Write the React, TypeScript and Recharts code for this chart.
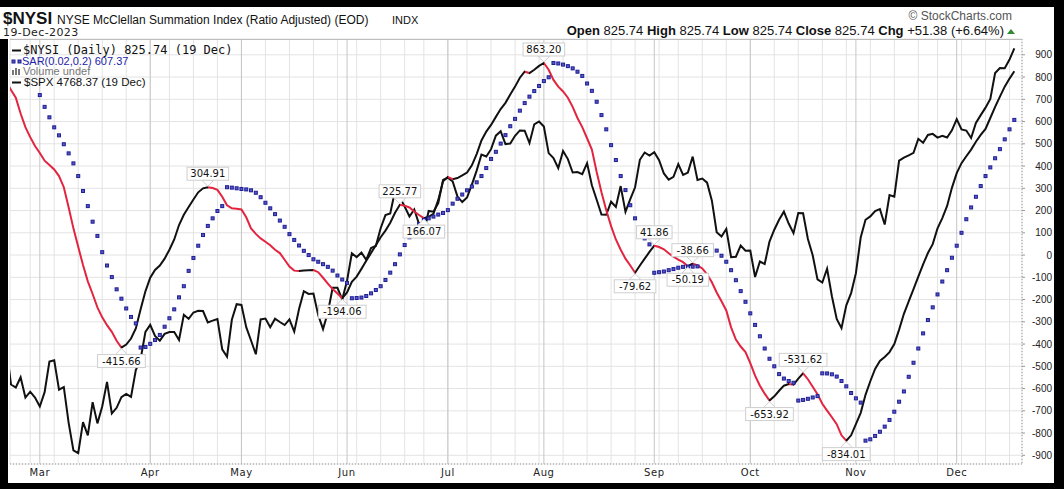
import React from "react";
import {
  ComposedChart,
  Line,
  XAxis,
  YAxis,
  CartesianGrid,
  ReferenceLine,
  ReferenceDot,
} from "recharts";

// trading days from Feb 17 (i = -1) to Dec 19 2023 (i = 209)
const nysi = [
  780,
  742, 707, 636, 575, 530, 490, 459, 424, 405, 385,
  355, 305, 215, 120, 37, -45, -118, -175, -235, -280,
  -315, -345, -385, -415.66, -402, -375, -330, -244, -163, -102,
  -67, -47, -16, 24, 70, 135, 181, 216, 250, 282,
  300, 304.91, 301, 293, 262, 224, 210, 208, 205, 170,
  120, 95, 75, 60, 44, 24, 9, -21, -52, -70,
  -72, -69, -68, -67, -77, -102, -128, -153, -173, -194.06,
  -168, -120, -97, -62, -26, 9, 44, 80, 110, 145,
  190, 225.77, 222, 214, 196, 180, 166.07, 172, 185, 248,
  332, 351, 341, 346, 358, 371, 403, 454, 515, 555,
  585, 621, 656, 684, 722, 757, 797, 824, 818, 833,
  850, 863.2, 833, 787, 757, 735, 707, 666, 616, 575,
  525, 474, 373, 282, 201, 130, 70, 24, -16, -47,
  -79.62, -47, -16, 14, 41.86, 36, 26, 8, -7, -20,
  -32, -50.19, -38.66, -46, -60, -87, -122, -168, -208, -249,
  -325, -380, -411, -436, -486, -542, -587, -623, -653.92, -635,
  -610, -587, -580, -583, -555, -531.62, -558, -592, -625, -668,
  -699, -729, -760, -810, -834.01, -810, -760, -709, -628, -567,
  -512, -476, -458, -436, -400, -335, -264, -208, -153, -97,
  -42, 9, 49, 120, 166, 221, 302, 368, 413, 444,
  474, 509, 540, 567, 616, 666, 712, 757, 793, 825.74,
];

const sar = [
  null,
  null, null, null, null, null, null, 719, 666, 619, 574,
  538, 498, 457, 412, 355, 288, 220, 150, 86, 13,
  -47, -99, -154, -196, -240, -278, -307, -415.66, -413, -399,
  -382, -359, -322, -284, -244, -190, -140, -71, -13, 42,
  90, 131, 165, 198, 220, 304.91, 303, 300, 297, 295,
  291, 280, 260, 235, 210, 184, 155, 127, 94, 68,
  43, 19, 0, -19, -30, -41, -53, -70, -92, -110,
  -125, -194.06, -193, -191, -184, -172, -157, -140, -112, -79,
  -41, 3, 45, 80, 112, 139, 158, 165, 173, 182,
  189, 202, 231, 253, 272, 291, 308, 327, 355, 391,
  432, 464, 501, 539, 579, 612, 649, 683, 712, 737,
  760, 782, 799, 863.2, 861, 856, 849, 839, 824, 805,
  771, 738, 689, 629, 565, 494, 427, 355, 292, 224,
  165, 115, 75, 48, -79.62, -77, -74, -68, -63, -57,
  -53, -52, -52, -51, 41.86, 39, 35, 20, -3, -30,
  -68, -113, -162, -210, -262, -314, -365, -420, -466, -500,
  -535, -555, -566, -574, -653.92, -651, -646, -640, -634, -531.62,
  -532, -536, -546, -566, -590, -620, -644, -663, -834.01, -828,
  -813, -794, -771, -741, -704, -659, -613, -547, -484, -420,
  -352, -292, -235, -177, -119, -68, -12, 42, 100, 161,
  214, 262, 310, 355, 394, 435, 476, 520, 565, 607.37,
];

const spx = [
  4079.09,
  3997.34, 3991.05, 4012.32, 3970.04, 3982.24, 3970.15, 3951.39, 3981.35, 4045.64, 4048.42,
  3986.37, 3992.01, 3918.32, 3861.59, 3855.76, 3919.29, 3891.93, 3960.28, 3916.64, 3951.57,
  4002.87, 3936.97, 3948.72, 3970.99, 3977.53, 3971.27, 4027.81, 4050.83, 4109.31, 4124.51,
  4100.6, 4090.38, 4105.02, 4109.11, 4108.94, 4091.95, 4146.22, 4137.64, 4151.32, 4154.87,
  4154.52, 4129.79, 4133.52, 4137.04, 4071.63, 4055.99, 4135.35, 4169.48, 4167.87, 4119.58,
  4090.75, 4061.22, 4136.25, 4138.12, 4119.17, 4137.64, 4130.62, 4124.08, 4136.28, 4109.9,
  4158.77, 4198.05, 4191.98, 4192.63, 4145.58, 4115.24, 4151.28, 4205.45, 4205.52, 4179.83,
  4221.02, 4282.37, 4273.79, 4283.85, 4267.52, 4293.93, 4298.86, 4338.93, 4369.01, 4372.59,
  4425.84, 4409.59, 4388.71, 4365.69, 4381.89, 4348.33, 4328.82, 4378.41, 4376.86, 4396.44,
  4450.38, 4455.59, 4446.82, 4411.59, 4398.95, 4409.53, 4439.26, 4472.16, 4510.04, 4505.42,
  4522.79, 4554.98, 4565.72, 4534.87, 4536.34, 4554.64, 4567.46, 4566.75, 4537.41, 4582.23,
  4588.96, 4576.73, 4513.39, 4501.89, 4478.03, 4518.44, 4499.38, 4467.71, 4468.83, 4464.05,
  4489.72, 4437.86, 4404.33, 4370.36, 4369.71, 4399.77, 4387.55, 4436.01, 4376.31, 4405.71,
  4433.31, 4497.63, 4514.87, 4507.66, 4515.77, 4496.83, 4465.48, 4451.14, 4457.49, 4487.46,
  4461.9, 4467.44, 4505.1, 4450.32, 4453.53, 4443.95, 4402.2, 4330.0, 4320.06, 4337.44,
  4273.53, 4274.51, 4299.7, 4288.05, 4288.39, 4229.45, 4263.75, 4258.19, 4308.5, 4335.66,
  4358.24, 4376.95, 4349.61, 4327.78, 4373.63, 4373.2, 4314.6, 4278.0, 4224.16, 4217.04,
  4247.68, 4186.77, 4137.23, 4117.37, 4166.82, 4193.8, 4237.86, 4317.78, 4358.34, 4365.98,
  4378.38, 4382.78, 4347.35, 4415.24, 4411.55, 4495.7, 4502.88, 4508.24, 4514.02, 4547.38,
  4538.19, 4556.62, 4559.34, 4550.43, 4554.89, 4550.58, 4567.8, 4594.63, 4569.78, 4567.18,
  4549.34, 4585.59, 4604.37, 4622.44, 4643.7, 4707.09, 4719.55, 4719.19, 4740.56, 4768.37,
];

const monthTicks = [6, 29, 48, 70, 91, 111, 134, 154, 176, 197];
const monthLabels = ["Mar", "Apr", "May", "Jun", "Jul", "Aug", "Sep", "Oct", "Nov", "Dec"];
const weekTicks = [
  4, 9, 14, 19, 24, 29, 33, 38, 43, 48, 53, 58, 63, 68, 72, 77, 82, 86, 91, 95, 100,
  105, 110, 115, 120, 125, 130, 135, 139, 144, 149, 154, 159, 164, 169, 174, 179,
  184, 189, 193, 198, 203, 208,
];
const nysiTicks = [-900, -800, -700, -600, -500, -400, -300, -200, -100, 0, 100, 200, 300, 400, 500, 600, 700, 800, 900];

// swing labels: day index, above (true) or below the line
const notes: [number, boolean][] = [
  [23, false], [41, true], [69, false], [81, true], [86, false], [111, true],
  [130, false], [134, true], [141, false], [142, true], [158, false], [165, true], [174, false],
];

const RED = "#e3243f";
const INK = "#111";
const NAVY = "#1e1e96";
const DV = "'DejaVu Sans', Verdana, sans-serif";
const LS = "'Liberation Sans', Arial, sans-serif";

const MonthTick = (props: any) => {
  const { x, payload } = props;
  const k = monthTicks.indexOf(payload.value);
  return (
    <text x={x} y={476} textAnchor="middle" fontSize={10} fontFamily={DV} letterSpacing={0.6} fill="#222">
      {monthLabels[k]}
    </text>
  );
};

const NysiTick = (props: any) => {
  const { y, payload } = props;
  return (
    <text x={1052} y={y + 3.5} textAnchor="end" fontSize={10} fontFamily={LS} fill="#222">
      {payload.value}
    </text>
  );
};

const SarDot = (props: any) => {
  const { cx, cy, index } = props;
  if (cx == null || cy == null || props.value == null) return <g key={`s${index}`} />;
  return (
    <rect key={`s${index}`} x={cx - 1.5} y={cy - 1.5} width={3} height={3} fill="#5656c4" stroke={NAVY} strokeWidth={1} />
  );
};

const Note = (props: any) => {
  const { cx, cy, text, up } = props;
  const w = text.length * 6.1 + 5;
  const h = 13;
  const by = up ? cy - 7 - h : cy + 7;
  const edge = up ? by + h : by;
  return (
    <g>
      <polygon
        points={`${cx - 6},${edge} ${cx + 6},${edge} ${cx},${cy + (up ? -1 : 1)}`}
        fill="#fff"
        stroke="#cfcfcf"
      />
      <rect x={cx - w / 2} y={by} width={w} height={h} fill="#fff" stroke="#cfcfcf" />
      <text x={cx} y={by + 10} textAnchor="middle" fontSize={10} fontFamily={DV} fill="#111">
        {text}
      </text>
    </g>
  );
};

export default function App() {
  const rows = nysi.map((v, k) => ({ i: k - 1, nysi: v, sar: sar[k], spx: spx[k] }));
  const n = rows.length;

  // colour each segment of the index by its direction
  const stops: React.ReactNode[] = [];
  for (let k = 1; k < n; k++) {
    const c = nysi[k] < nysi[k - 1] ? RED : INK;
    stops.push(<stop key={`a${k}`} offset={(k - 1) / (n - 1)} stopColor={c} />);
    stops.push(<stop key={`b${k}`} offset={k / (n - 1)} stopColor={c} />);
  }

  return (
    <div style={{ position: "absolute", left: 0, top: 0, width: 1064, height: 489, background: "#000", overflow: "hidden" }}>
      <svg width={1064} height={489} style={{ position: "absolute", left: 0, top: 0 }}>
        <rect x={0} y={7} width={1054} height={32} fill="#fff" />
        <rect x={8} y={7} width={1046} height={476} fill="#fff" />
      </svg>

      <div style={{ position: "absolute", left: 0, top: 0 }}>
        <ComposedChart width={1064} height={489} data={rows} margin={{ top: 39, right: 0, bottom: 0, left: 10 }}>
          <defs>
            <linearGradient id="nysiDir" x1="0" y1="0" x2="1" y2="0">
              {stops}
            </linearGradient>
          </defs>
          <XAxis
            xAxisId="m"
            type="number"
            dataKey="i"
            domain={[-0.21, 210.6]}
            allowDataOverflow
            ticks={monthTicks}
            interval={0}
            tick={<MonthTick />}
            tickLine={false}
            axisLine={{ stroke: "#999", strokeDasharray: "1 2" }}
            height={25}
          />
          <XAxis xAxisId="w" type="number" dataKey="i" domain={[-0.21, 210.6]} allowDataOverflow ticks={weekTicks} interval={0} hide />
          <YAxis
            yAxisId="n"
            orientation="right"
            domain={[-939, 971]}
            allowDataOverflow
            ticks={nysiTicks}
            interval={0}
            tick={<NysiTick />}
            tickSize={3}
            tickLine={{ stroke: "#999" }}
            axisLine={{ stroke: "#999", strokeDasharray: "1 2" }}
            width={42}
          />
          <YAxis yAxisId="s" scale="log" domain={[3834, 4792]} allowDataOverflow hide />
          <CartesianGrid xAxisId="w" yAxisId="n" stroke="#e3e3e3" />
          {monthTicks.map((t) => (
            <ReferenceLine key={`m${t}`} x={t} xAxisId="m" yAxisId="n" stroke="#c6c6c6" />
          ))}
          <Line
            xAxisId="m"
            yAxisId="s"
            dataKey="spx"
            type="linear"
            stroke={INK}
            strokeWidth={2}
            dot={false}
            isAnimationActive={false}
          />
          <Line
            xAxisId="m"
            yAxisId="n"
            dataKey="nysi"
            type="linear"
            stroke="url(#nysiDir)"
            strokeWidth={2}
            dot={false}
            isAnimationActive={false}
          />
          <Line
            xAxisId="m"
            yAxisId="n"
            dataKey="sar"
            type="linear"
            stroke="none"
            dot={<SarDot />}
            activeDot={false}
            connectNulls={false}
            isAnimationActive={false}
          />
          {notes.map(([idx, up]) => (
            <ReferenceDot
              key={`n${idx}`}
              xAxisId="m"
              yAxisId="n"
              x={idx}
              y={nysi[idx + 1]}
              r={0}
              ifOverflow="visible"
              shape={(p: any) => <Note cx={p.cx} cy={p.cy} up={up} text={nysi[idx + 1].toFixed(2)} />}
            />
          ))}
        </ComposedChart>
      </div>

      <svg width={1064} height={489} style={{ position: "absolute", left: 0, top: 0, pointerEvents: "none" }}>
        <line x1={10} y1={39.5} x2={1022} y2={39.5} stroke="#bdbdbd" />
        <text x={3} y={24} fontFamily={LS} fontSize={17} fontWeight="bold" fill="#111">$NYSI</text>
        <text x={57} y={24} fontFamily={LS} fontSize={12} fill="#111">NYSE McClellan Summation Index (Ratio Adjusted) (EOD)</text>
        <text x={392} y={24} fontFamily={LS} fontSize={11} fill="#111">INDX</text>
        <text x={3} y={36} fontFamily={DV} fontSize={11} letterSpacing={0.4} fill="#222">19-Dec-2023</text>
        <text x={1012} y={20} textAnchor="end" fontFamily={LS} fontSize={12} fill="#555">© StockCharts.com</text>
        <text x={1004} y={35} textAnchor="end" fontFamily={LS} fontSize={13} fill="#111">
          <tspan fontWeight="bold">Open</tspan> 825.74 <tspan fontWeight="bold">High</tspan> 825.74{" "}
          <tspan fontWeight="bold">Low</tspan> 825.74 <tspan fontWeight="bold">Close</tspan> 825.74{" "}
          <tspan fontWeight="bold">Chg</tspan> +51.38 (+6.64%)
        </text>
        <polygon points="1007,34 1015,34 1011,29" fill="#2e8b2e" />

        <line x1={12} y1={50.5} x2={21} y2={50.5} stroke={INK} strokeWidth={2} />
        <text x={23} y={54} fontFamily="'DejaVu Sans Mono', monospace" fontSize={12} fill="#111">$NYSI (Daily) 825.74 (19 Dec)</text>
        <rect x={12} y={60} width={3} height={3} fill="#5656c4" stroke={NAVY} />
        <rect x={18} y={60} width={3} height={3} fill="#5656c4" stroke={NAVY} />
        <text x={22} y={65} fontFamily={LS} fontSize={11} fill="#2323a8">SAR(0.02,0.2) 607.37</text>
        <rect x={12} y={70} width={2} height={5} fill="#777" />
        <rect x={15} y={68} width={2} height={7} fill="#777" />
        <rect x={18} y={69} width={2} height={6} fill="#777" />
        <text x={23} y={75} fontFamily={LS} fontSize={11} fill="#777">Volume undef</text>
        <line x1={12} y1={82.5} x2={21} y2={82.5} stroke={INK} strokeWidth={2} />
        <text x={24} y={86} fontFamily={LS} fontSize={11.5} fill="#111">$SPX 4768.37 (19 Dec)</text>
      </svg>
    </div>
  );
}
